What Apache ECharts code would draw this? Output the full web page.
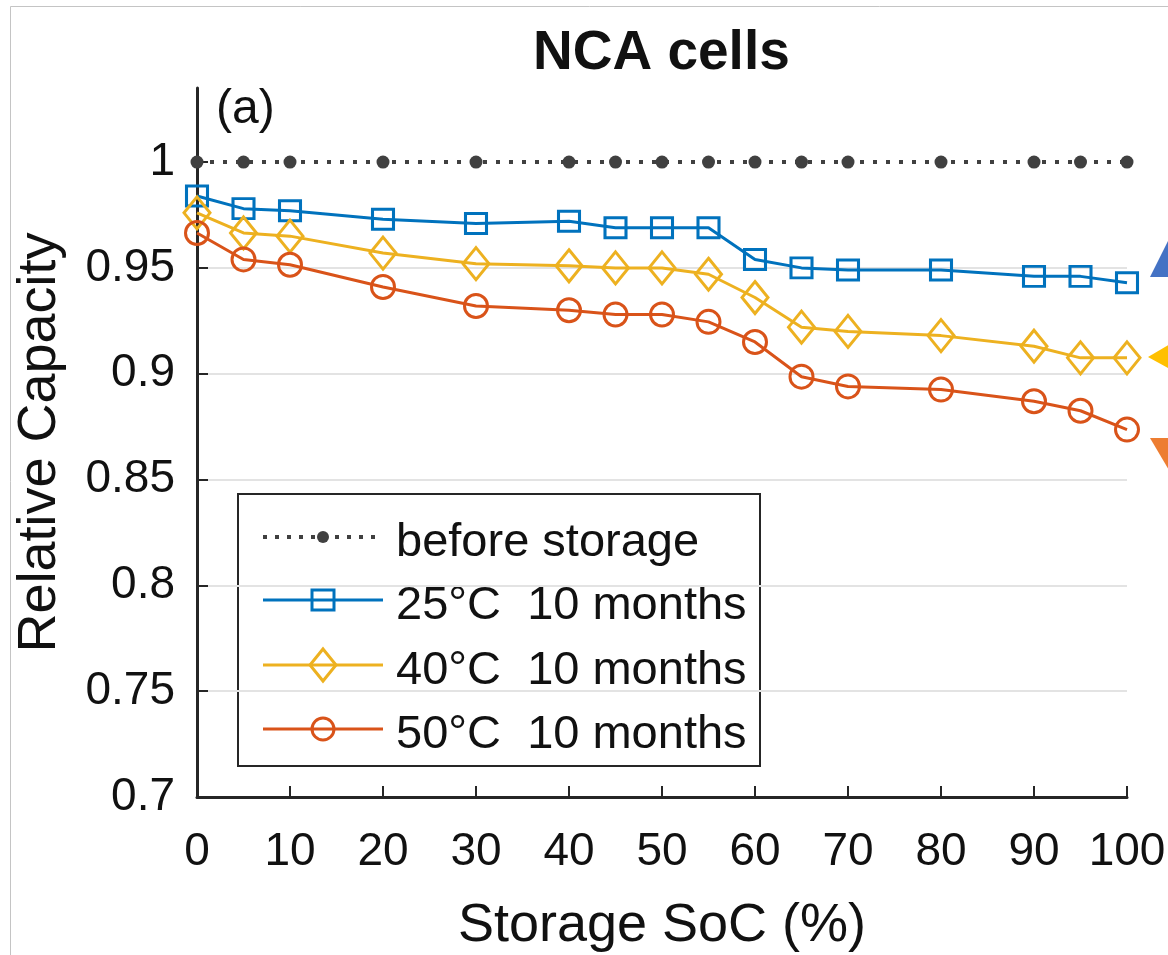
<!DOCTYPE html>
<html>
<head>
<meta charset="utf-8">
<script src="https://cdn.jsdelivr.net/npm/echarts@6/dist/echarts.min.js"></script>
<style>
  html, body { margin: 0; padding: 0; background: #ffffff; }
  #chart { width: 1168px; height: 955px; }
</style>
</head>
<body>
<div id="chart"></div>
<script>
// Storage state of charge (%) of each test point
const storageSoC = [0, 5, 10, 20, 30, 40, 45, 50, 55, 60, 65, 70, 80, 90, 95, 100];

// Relative capacity per storage condition
const beforeStorage = [1, 1, 1, 1, 1, 1, 1, 1, 1, 1, 1, 1, 1, 1, 1, 1];
const cap25C = [0.984, 0.978, 0.977, 0.973, 0.971, 0.972, 0.969, 0.969, 0.969, 0.954, 0.950, 0.949, 0.949, 0.946, 0.946, 0.943];
const cap40C = [0.976, 0.9665, 0.965, 0.957, 0.952, 0.951, 0.950, 0.950, 0.947, 0.936, 0.922, 0.920, 0.918, 0.913, 0.9075, 0.9075];
const cap50C = [0.9665, 0.954, 0.9515, 0.941, 0.932, 0.930, 0.928, 0.928, 0.9245, 0.915, 0.8986, 0.894, 0.8925, 0.887, 0.8825, 0.8736];

const seriesNames = ['before storage', '25°C  10 months', '40°C  10 months', '50°C  10 months'];
const yTickValues = [0.7, 0.75, 0.8, 0.85, 0.9, 0.95, 1];
const xTickValues = [0, 10, 20, 30, 40, 50, 60, 70, 80, 90, 100];

const FONT = '"Liberation Sans", Arial, Helvetica, sans-serif';
const AXIS_COLOR = '#262626';
const TEXT_COLOR = '#111111';
const C_BEFORE = '#404040';
const C_25 = '#0072BD';
const C_40 = '#EDB120';
const C_50 = '#D95319';
const LW = 3;

function pairs(xs, ys) {
  return xs.map((x, i) => [x, ys[i]]);
}

function hollowSeries(name, values, color, symbol, size) {
  return {
    name: name,
    type: 'line',
    data: pairs(storageSoC, values),
    symbol: symbol,
    symbolSize: size,
    showAllSymbol: true,
    lineStyle: { color: color, width: LW },
    itemStyle: { color: 'rgba(0,0,0,0)', borderColor: color, borderWidth: LW },
    emphasis: { disabled: true },
    z: 3
  };
}

// Legend drawn as a boxed key: sample line, marker and label per row
const legendX = 238, legendY = 494, legendW = 522, legendH = 272;
const rowY = [537, 600, 665, 729];
const sampleX0 = 263, sampleX1 = 383, markX = 323, labelX = 396;

function legendMarker(i, cy) {
  if (i === 0) {
    return { type: 'circle', shape: { cx: markX, cy: cy, r: 6 }, style: { fill: C_BEFORE } };
  }
  if (i === 1) {
    return { type: 'rect', shape: { x: markX - 11, y: cy - 10, width: 22, height: 20 },
      style: { fill: 'none', stroke: C_25, lineWidth: LW } };
  }
  if (i === 2) {
    return { type: 'polygon', shape: { points: [[markX, cy - 16], [markX + 13, cy], [markX, cy + 16], [markX - 13, cy]] },
      style: { fill: 'none', stroke: C_40, lineWidth: LW } };
  }
  return { type: 'circle', shape: { cx: markX, cy: cy, r: 11 }, style: { fill: 'none', stroke: C_50, lineWidth: LW } };
}

const legendColors = [C_BEFORE, C_25, C_40, C_50];
const legendChildren = [{
  type: 'rect',
  shape: { x: legendX, y: legendY, width: legendW, height: legendH },
  style: { fill: '#ffffff', stroke: AXIS_COLOR, lineWidth: 2 }
}];
seriesNames.forEach((name, i) => {
  const cy = rowY[i];
  legendChildren.push({
    type: 'line',
    shape: { x1: sampleX0, y1: cy, x2: sampleX1, y2: cy },
    style: i === 0
      ? { stroke: C_BEFORE, lineWidth: 4, lineDash: [4, 8] }
      : { stroke: legendColors[i], lineWidth: LW }
  });
  legendChildren.push(legendMarker(i, cy));
  legendChildren.push({
    type: 'text',
    style: { x: labelX, y: cy + 6, text: name, fill: TEXT_COLOR, font: '47px ' + FONT, verticalAlign: 'middle', textAlign: 'left' }
  });
});

const chart = echarts.init(document.getElementById('chart'), null, { renderer: 'canvas' });

chart.setOption({
  animation: false,
  backgroundColor: '#ffffff',
  title: {
    text: 'NCA cells',
    left: 528,
    top: 21,
    textStyle: { fontFamily: FONT, fontSize: 55, fontWeight: 'bold', color: TEXT_COLOR }
  },
  grid: { left: 197, right: 41, top: 88, bottom: 158, containLabel: false, outerBoundsMode: 'none' },
  xAxis: {
    type: 'value',
    min: 0,
    max: 100,
    interval: 10,
    name: 'Storage SoC (%)',
    nameLocation: 'middle',
    nameGap: 102,
    nameTextStyle: { fontFamily: FONT, fontSize: 54, color: TEXT_COLOR },
    axisLine: { show: true, onZero: false, lineStyle: { color: AXIS_COLOR, width: 3 } },
    axisTick: { show: true, inside: true, length: 11, lineStyle: { color: AXIS_COLOR, width: 2 }, customValues: xTickValues },
    axisLabel: { margin: 32, fontFamily: FONT, fontSize: 46, color: TEXT_COLOR, customValues: xTickValues },
    splitLine: { show: false }
  },
  yAxis: {
    type: 'value',
    min: 0.7,
    max: 1.035,
    interval: 0.05,
    name: 'Relative Capacity',
    nameLocation: 'middle',
    nameGap: 130,
    nameTextStyle: { fontFamily: FONT, fontSize: 54, color: TEXT_COLOR },
    axisLine: { show: true, lineStyle: { color: AXIS_COLOR, width: 3 } },
    axisTick: { show: true, inside: true, length: 11, lineStyle: { color: AXIS_COLOR, width: 2 }, customValues: yTickValues },
    axisLabel: {
      margin: 22, fontFamily: FONT, fontSize: 46, color: TEXT_COLOR, customValues: yTickValues,
      formatter: v => String(+v.toFixed(2))
    },
    splitLine: { show: true, showMinLine: false, showMaxLine: false, lineStyle: { color: '#e3e3e3', width: 2 } }
  },
  series: [
    {
      name: seriesNames[0],
      type: 'line',
      data: pairs(storageSoC, beforeStorage),
      symbol: 'circle',
      symbolSize: 13,
      showAllSymbol: true,
      lineStyle: { color: C_BEFORE, width: 4, type: [4, 9] },
      itemStyle: { color: C_BEFORE },
      emphasis: { disabled: true },
      z: 3
    },
    hollowSeries(seriesNames[1], cap25C, C_25, 'rect', [21, 20]),
    hollowSeries(seriesNames[2], cap40C, C_40, 'diamond', [26, 32]),
    hollowSeries(seriesNames[3], cap50C, C_50, 'circle', 23)
  ],
  graphic: [
    // outer frame
    { type: 'rect', z: 0, silent: true, shape: { x: 10.5, y: 6.5, width: 1300, height: 1100 },
      style: { fill: 'none', stroke: '#c4c4c4', lineWidth: 1 } },
    // panel tag
    { type: 'text', z: 10, style: { x: 216, y: 86, text: '(a)', fill: TEXT_COLOR, font: '48px ' + FONT } },
    // annotation arrowheads entering from the right edge
    { type: 'polygon', z: 10, shape: { points: [[1150, 277], [1170, 237], [1170, 277]] }, style: { fill: '#4472C4' } },
    { type: 'polygon', z: 10, shape: { points: [[1148, 357], [1170, 344], [1170, 369]] }, style: { fill: '#FFC000' } },
    { type: 'polygon', z: 10, shape: { points: [[1150, 438], [1170, 438], [1170, 472]] }, style: { fill: '#ED7D31' } },
    { type: 'group', z: 50, children: legendChildren }
  ]
});
</script>
</body>
</html>
